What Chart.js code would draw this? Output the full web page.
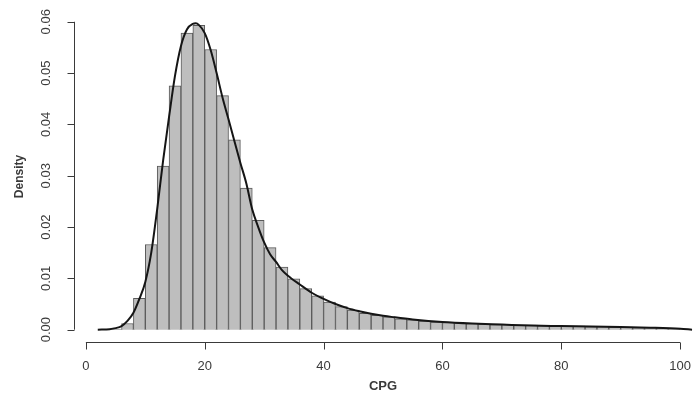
<!DOCTYPE html>
<html>
<head>
<meta charset="utf-8">
<script src="https://cdn.jsdelivr.net/npm/chart.js@4"></script>
<style>
  html, body { margin: 0; padding: 0; background: #fff; }
  #wrap { width: 696px; height: 396px; position: relative; }
</style>
</head>
<body>
<div id="wrap"><canvas id="histChart"></canvas></div>
<script>
// ── Data ────────────────────────────────────────────────────────────
const binWidth = 2;
const binStarts = [4, 6, 8, 10, 12, 14, 16, 18, 20, 22, 24, 26, 28, 30, 32, 34, 36, 38,
  40, 42, 44, 46, 48, 50, 52, 54, 56, 58, 60, 62, 64, 66, 68, 70, 72, 74, 76, 78,
  80, 82, 84, 86, 88, 90, 92, 94, 96, 98];
const binDensity = [0.0001, 0.0012, 0.0061, 0.0166, 0.0319, 0.0475, 0.0578, 0.0593,
  0.0546, 0.0456, 0.0370, 0.0276, 0.0213, 0.0160, 0.0122, 0.0099, 0.0080, 0.0066,
  0.0054, 0.0045, 0.0038, 0.0032, 0.0028, 0.0025, 0.0021, 0.0019, 0.0017, 0.0015,
  0.0014, 0.0013, 0.0012, 0.0011, 0.0010, 0.0010, 0.0009, 0.0009, 0.0008, 0.0008,
  0.0007, 0.0007, 0.0006, 0.0006, 0.0005, 0.0005, 0.0004, 0.0004, 0.0003, 0.0003];

const kdeX = [2, 4, 5, 6, 7, 8, 9, 10, 11, 12, 13, 14, 15, 16, 17, 18, 18.5, 19, 20,
  21, 22, 23, 24, 25, 26, 27, 28, 29, 30, 31, 32, 33, 34, 36, 38, 40, 42, 44, 46,
  48, 50, 52, 55, 60, 65, 70, 75, 80, 85, 90, 95, 100, 102];
const kdeY = [0, 0.0001, 0.0003, 0.0007, 0.0017, 0.0033, 0.0060, 0.0093, 0.0150,
  0.0235, 0.0330, 0.0415, 0.0495, 0.0553, 0.0585, 0.0596, 0.0597, 0.0594, 0.0578,
  0.0545, 0.0500, 0.0452, 0.0410, 0.0367, 0.0325, 0.0285, 0.0234, 0.0200, 0.0170,
  0.0147, 0.0132, 0.0116, 0.0105, 0.0088, 0.0072, 0.0060, 0.0050, 0.0042, 0.0036,
  0.0031, 0.0027, 0.0024, 0.0020, 0.0015, 0.0012, 0.0010, 0.0008, 0.0007, 0.0006,
  0.0005, 0.0004, 0.0002, 0];

const xTicks = [0, 20, 40, 60, 80, 100];
const yTicks = [0, 0.01, 0.02, 0.03, 0.04, 0.05, 0.06];
const xTitle = "CPG";
const yTitle = "Density";

// ── R-style detached axes ───────────────────────────────────────────
const rAxes = {
  id: "rAxes",
  afterDraw(chart) {
    const { ctx, chartArea, scales: { x, y } } = chart;
    const ink = "#3a3a3a";
    ctx.save();
    ctx.strokeStyle = ink;
    ctx.fillStyle = ink;
    ctx.lineWidth = 1;

    // x axis
    const ax = Math.round(chartArea.bottom) + 0.5;
    ctx.beginPath();
    ctx.moveTo(x.getPixelForValue(xTicks[0]), ax);
    ctx.lineTo(x.getPixelForValue(xTicks[xTicks.length - 1]), ax);
    xTicks.forEach(t => {
      const px = Math.round(x.getPixelForValue(t)) + 0.5;
      ctx.moveTo(px, ax);
      ctx.lineTo(px, ax + 7);
    });
    ctx.stroke();
    ctx.font = "13px 'Liberation Sans', Arial, sans-serif";
    ctx.textAlign = "center";
    ctx.textBaseline = "middle";
    xTicks.forEach(t => ctx.fillText(String(t), x.getPixelForValue(t), 366));
    ctx.font = "bold 13px 'Liberation Sans', Arial, sans-serif";
    ctx.fillText(xTitle, x.getPixelForValue(50), 386);

    // y axis
    const ay = Math.round(chartArea.left) + 0.5;
    ctx.beginPath();
    ctx.moveTo(ay, y.getPixelForValue(yTicks[0]));
    ctx.lineTo(ay, y.getPixelForValue(yTicks[yTicks.length - 1]));
    yTicks.forEach(t => {
      const py = Math.round(y.getPixelForValue(t)) + 0.5;
      ctx.moveTo(ay, py);
      ctx.lineTo(ay - 7, py);
    });
    ctx.stroke();
    ctx.font = "13px 'Liberation Sans', Arial, sans-serif";
    yTicks.forEach(t => {
      ctx.save();
      ctx.translate(46, y.getPixelForValue(t));
      ctx.rotate(-Math.PI / 2);
      ctx.fillText(t.toFixed(2), 0, 0);
      ctx.restore();
    });
    ctx.save();
    ctx.font = "bold 12px 'Liberation Sans', Arial, sans-serif";
    ctx.translate(20, (chartArea.top + chartArea.bottom) / 2);
    ctx.rotate(-Math.PI / 2);
    ctx.fillText(yTitle, 0, 0);
    ctx.restore();

    ctx.restore();
  }
};

new Chart(document.getElementById("histChart"), {
  data: {
    datasets: [
      {
        type: "line",
        order: 0,
        data: kdeX.map((v, i) => ({ x: v, y: kdeY[i] })),
        borderColor: "#151515",
        borderWidth: 2,
        pointRadius: 0,
        cubicInterpolationMode: "monotone",
        fill: false,
        clip: false,
      },
      {
        type: "bar",
        order: 1,
        data: binStarts.map((s, i) => ({ x: s + binWidth / 2, y: binDensity[i] })),
        backgroundColor: "#bebebe",
        borderColor: "#5a5a5a",
        borderWidth: 1,
        borderSkipped: "bottom",
        barPercentage: 1,
        categoryPercentage: 1,
      }
    ]
  },
  options: {
    responsive: true,
    maintainAspectRatio: false,
    animation: false,
    layout: { padding: { left: 74, right: 1, top: 11, bottom: 54 } },
    plugins: { legend: { display: false }, tooltip: { enabled: false } },
    scales: {
      x: { type: "linear", min: -2, max: 102.5, offset: false, display: false },
      y: { type: "linear", min: -0.0024, max: 0.0621, display: false }
    }
  },
  plugins: [rAxes]
});
</script>
</body>
</html>
